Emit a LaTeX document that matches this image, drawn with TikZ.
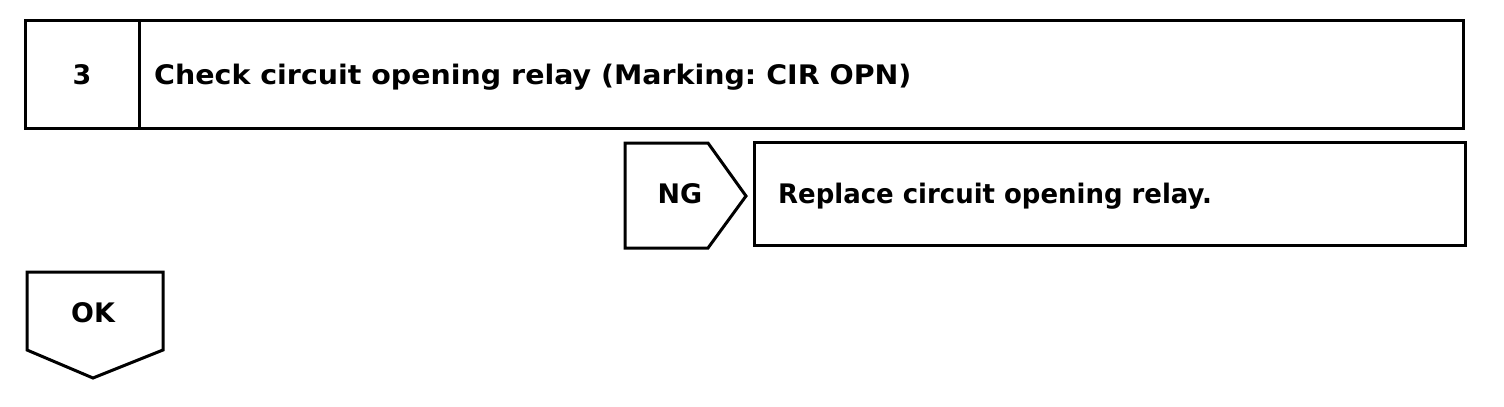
\documentclass[tikz,border=0pt]{standalone}
\usepackage{fontspec}
\usepackage{graphicx}
\setmainfont{DejaVu Sans}
\frenchspacing
\begin{document}
\begin{tikzpicture}[x=1bp,y=-1bp,
  box/.style={line width=3bp, line join=miter},
  lbl/.style={font=\bfseries\fontsize{27}{32}\selectfont, inner sep=0}]
\useasboundingbox (0,0) rectangle (1504,406);
\draw[box] (25,20) rectangle (1463,128);
\draw[box] (139,20) -- (139,128);
\node[lbl, anchor=base] (num) at (82,84) {3};
\node[lbl, anchor=base west] (title) at (154,84) {\scalebox{1.058}[1]{Check circuit opening relay (Marking: CIR OPN)}};
\draw[box] (625,143) -- (708,143) -- (746,196) -- (708,248) -- (625,248) -- cycle;
\node[lbl, anchor=base] (ng) at (680,203) {NG};
\draw[box] (754,142) rectangle (1465,245);
\node[lbl, anchor=base west] (repl) at (778,203) {\scalebox{0.965}[1]{Replace circuit opening relay.}};
\draw[box] (27,272) -- (163,272) -- (163,350) -- (93,378) -- (27,350) -- cycle;
\node[lbl, anchor=base] (ok) at (93,322) {OK};
\end{tikzpicture}
\end{document}
